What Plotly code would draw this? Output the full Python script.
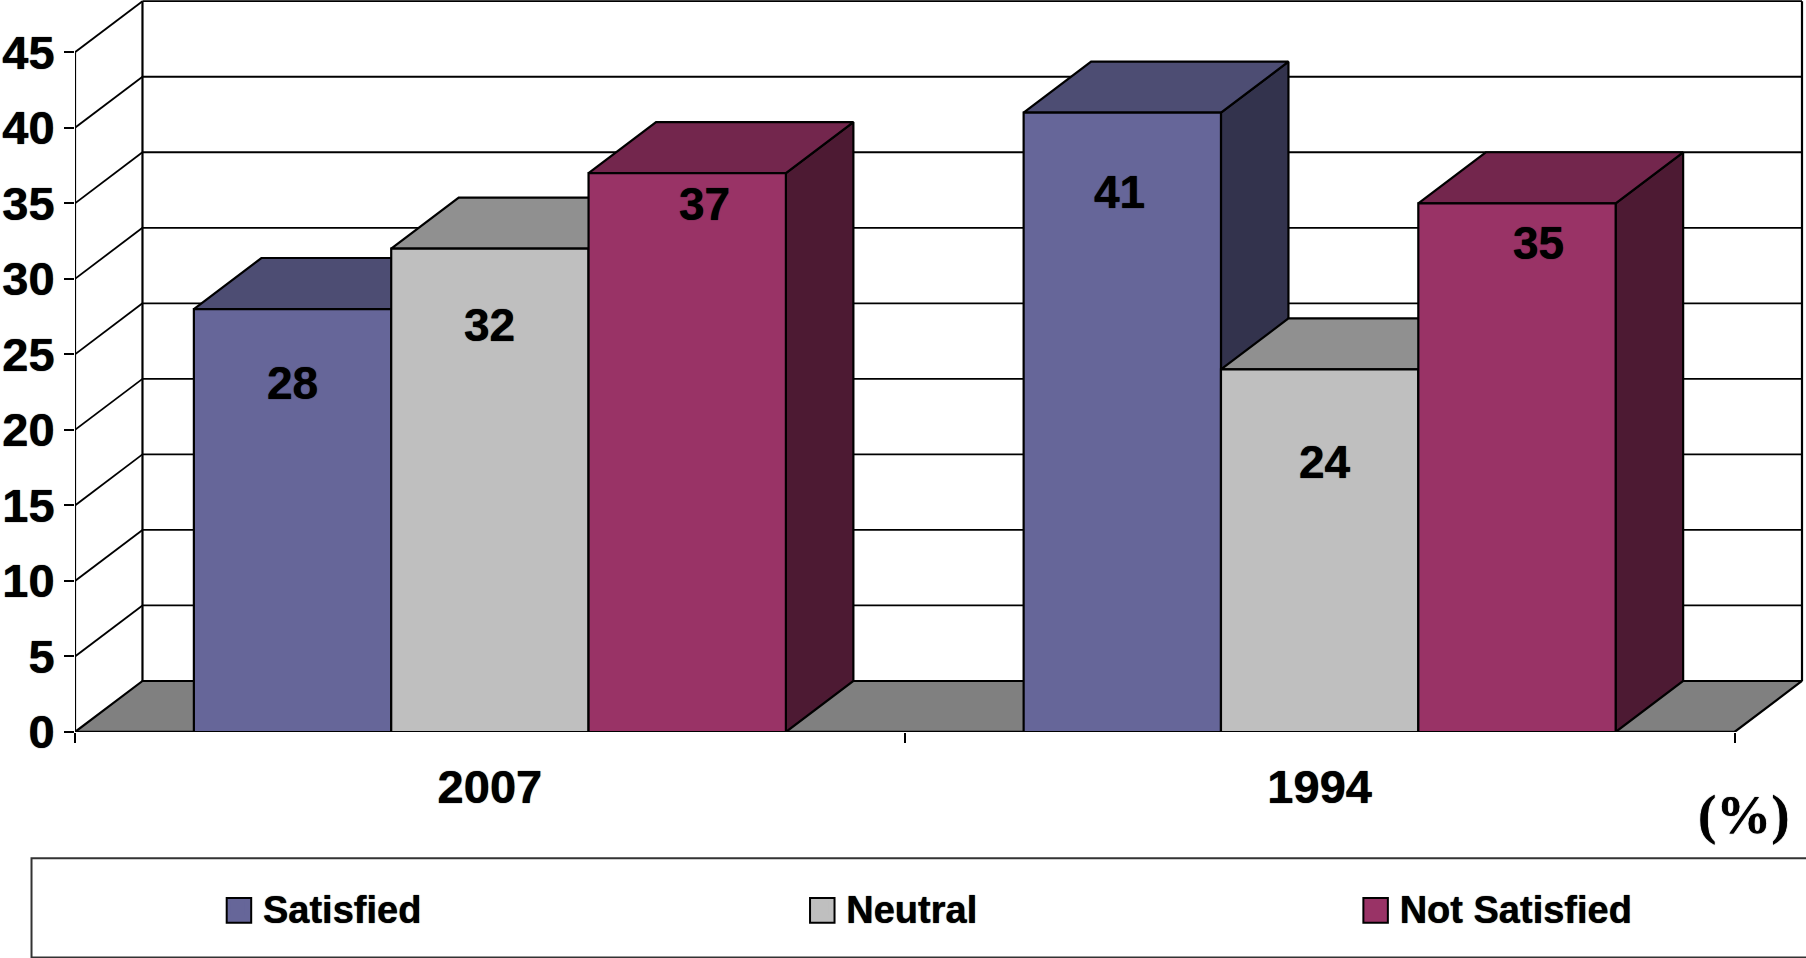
import plotly.graph_objects as go

# ---- data ----
categories = ["2007", "1994"]
series_names = ["Satisfied", "Neutral", "Not Satisfied"]
satisfied = [28, 41]
neutral = [32, 24]
not_satisfied = [37, 35]
y_ticks = [0, 5, 10, 15, 20, 25, 30, 35, 40, 45]

front_colors = ["#666699", "#BFBFBF", "#993366"]
top_colors = ["#4D4D73", "#909090", "#73264D"]
side_colors = ["#33334D", "#606060", "#4D1A33"]

# label nudges in pixels relative to each bar's top centre
label_dx = [[0, -3], [0, 5], [17, 22]]
label_below = [[74, 79], [76, 93], [31, 40]]

# ---- geometry of the frame ----
W, H = 1806, 958
PX_LEFT, PX_ZERO = 74.5, 731.7
PX_PER_CAT, PX_PER_UNIT = 830, 15.1
xr = [-0.5, -0.5 + (W - PX_LEFT) / PX_PER_CAT]
yr = [0, PX_ZERO / PX_PER_UNIT]
DX, DY = 67.5 / PX_PER_CAT, 51 / PX_PER_UNIT
BAR_W = 197.4 / PX_PER_CAT
X0, X1 = -0.5, 1.5
LINE = "#000000"
HEAVY = "0 0 1px #000000"


def px(p):
    return (p - PX_LEFT) / (W - PX_LEFT)


def py(p):
    return (PX_ZERO - p) / PX_ZERO


values = [satisfied, neutral, not_satisfied]
fig = go.Figure()


def poly(xs, ys, fill, width=2.2):
    fig.add_trace(go.Scatter(
        x=xs + xs[:1], y=ys + ys[:1], mode="lines", fill="toself", fillcolor=fill,
        line=dict(color=LINE, width=width), hoverinfo="skip", showlegend=False,
        cliponaxis=False))


def lines(segments, width):
    xs, ys = [], []
    for (a, b, c, d) in segments:
        xs += [a, c, None]
        ys += [b, d, None]
    fig.add_trace(go.Scatter(
        x=xs, y=ys, mode="lines", line=dict(color=LINE, width=width),
        hoverinfo="skip", showlegend=False, cliponaxis=False))


# wall gridlines and the slanted side-wall lines
top = y_ticks[-1]
lines([(X0 + DX, v + DY, X1 + DX, v + DY) for v in y_ticks[1:]], 1.8)
lines([(X0, v, X0 + DX, v + DY) for v in y_ticks[1:]], 1.8)
lines([(X0, 0, X0, top), (X0 + DX, DY, X0 + DX, top + DY), (X1 + DX, DY, X1 + DX, top + DY)], 2.2)

# floor
poly([X0, X0 + DX, X1 + DX, X1], [0, DY, DY, 0], "#808080")

# depth faces, painted left to right
for c in range(len(categories)):
    for s in range(len(series_names)):
        v = values[s][c]
        xl = c + (s - 1.5) * BAR_W
        xh = xl + BAR_W
        poly([xh, xh + DX, xh + DX, xh], [0, DY, v + DY, v], side_colors[s])
        poly([xl, xl + DX, xh + DX, xh], [v, v + DY, v + DY, v], top_colors[s])

# front axis line
lines([(X0, 0, X1, 0)], 2.5)

# front faces on an overlay subplot, above all depth faces
for s, name in enumerate(series_names):
    fig.add_trace(go.Bar(
        x=[0, 1], y=values[s], name=name, xaxis="x2", yaxis="y2",
        marker=dict(color=front_colors[s], line=dict(color=LINE, width=2.2)),
        showlegend=False, hovertemplate=name + ": %{y}<extra></extra>"))

# legend entries, one legend per series so each sits where the original puts it
legend_left = [212.5, 796, 1349.5]
swatch_centre = [238.5, 822, 1375.5]
SWATCH = 24.5
LEG_Y = 908
SWATCH_Y = 910
shapes = [dict(type="rect", xref="paper", yref="paper",
               x0=px(31), x1=px(W + 10), y0=py(957), y1=py(858),
               line=dict(color="#333333", width=2), fillcolor="rgba(0,0,0,0)", layer="below")]
legends = {}
for s, name in enumerate(series_names):
    key = "legend" if s == 0 else f"legend{s + 1}"
    fig.add_trace(go.Scatter(
        x=[None], y=[None], mode="markers", name=name, legend=key,
        marker=dict(symbol="square", size=14, color=front_colors[s])))
    legends[key] = dict(
        x=px(legend_left[s]), y=py(LEG_Y), xanchor="left", yanchor="middle",
        bgcolor="rgba(0,0,0,0)", borderwidth=0, itemwidth=40, itemclick=False,
        itemdoubleclick=False,
        font=dict(family="Liberation Sans", size=38, weight=700, color="#000000", shadow=HEAVY))
    cx = swatch_centre[s]
    shapes.append(dict(type="rect", xref="paper", yref="paper",
                       x0=px(cx - SWATCH / 2), x1=px(cx + SWATCH / 2),
                       y0=py(SWATCH_Y + SWATCH / 2), y1=py(SWATCH_Y - SWATCH / 2),
                       line=dict(color="#000000", width=2), fillcolor=front_colors[s]))

# data labels
annotations = []
for s in range(len(series_names)):
    for c in range(len(categories)):
        annotations.append(dict(
            x=c + (s - 1) * BAR_W, y=values[s][c], xref="x2", yref="y2",
            text=str(values[s][c]), showarrow=False, xanchor="center", yanchor="middle",
            xshift=label_dx[s][c], yshift=-label_below[s][c],
            font=dict(family="Liberation Sans", size=46, weight=700, color="#000000", shadow=HEAVY)))
annotations.append(dict(
    x=px(1744), y=py(814), xref="paper", yref="paper", text="(%)", showarrow=False,
    xanchor="center", yanchor="middle",
    font=dict(family="Liberation Serif", size=55, weight=700, color="#000000", shadow=HEAVY)))

tick_font = dict(family="Liberation Sans", size=47, weight=700, color="#000000", shadow=HEAVY)
layout = dict(
    width=W, height=H, autosize=False,
    margin=dict(l=PX_LEFT, r=0, t=0, b=H - PX_ZERO, pad=0),
    paper_bgcolor="#FFFFFF", plot_bgcolor="#FFFFFF",
    barmode="group", bargap=1 - 3 * BAR_W, bargroupgap=0,
    showlegend=True, shapes=shapes, annotations=annotations,
    xaxis=dict(range=xr, showgrid=False, zeroline=False, showline=False,
               tickmode="array", tickvals=[0, 1], ticktext=categories, ticks="",
               tickfont=tick_font, ticklabelstandoff=23,
               minor=dict(tickmode="array", tickvals=[X0, 0.5, X1], ticks="outside",
                          ticklen=10, tickwidth=2, tickcolor="#000000", showgrid=False)),
    yaxis=dict(range=yr, showgrid=False, zeroline=False, showline=False,
               tickmode="array", tickvals=y_ticks, ticks="outside", ticklen=10, tickwidth=2,
               tickcolor="#000000", tickfont=tick_font),
    xaxis2=dict(range=xr, overlaying="x", visible=False),
    yaxis2=dict(range=yr, overlaying="y", visible=False),
)
layout.update(legends)
fig.update_layout(**layout)
fig.write_html("out.html",
               post_script="document.body.style.margin='0';document.body.style.overflow='hidden';",
               config=dict(displayModeBar=False))
